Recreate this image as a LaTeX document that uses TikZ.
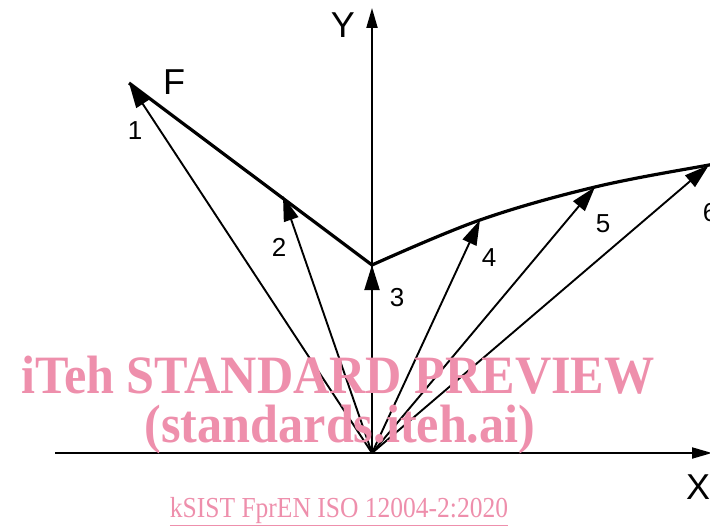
\documentclass[tikz,border=0pt]{standalone}
\usepackage{fontspec}
\setmainfont{Liberation Sans}
\newfontfamily\wmfont{Liberation Serif}
\usetikzlibrary{arrows.meta}
\definecolor{wmpink}{RGB}{238,143,172}
\tikzset{
  vec/.style={line width=1.9pt,-{Triangle[length=25pt,width=15pt]}},
  axis/.style={line width=2pt,-{Triangle[length=20pt,width=11pt]}},
  locus/.style={line width=3.2pt,line join=round},
  num/.style={font=\fontsize{26}{26}\selectfont},
  big/.style={font=\fontsize{36}{36}\selectfont},
  wm/.style={text=wmpink,font=\wmfont\bfseries\fontsize{54}{54}\selectfont},
}
\begin{document}
\begin{tikzpicture}[x=1pt,y=-1pt]
\useasboundingbox (0,0) rectangle (710,527);
\coordinate (O) at (372,453);
\coordinate (xs) at (55,453);
\coordinate (xe) at (712,453);
\coordinate (ye) at (372,8);
\coordinate (p1) at (129,83);
\coordinate (p2) at (283,196);
\coordinate (p3) at (372,265);
\coordinate (p4) at (480,220);
\coordinate (p5) at (595,187);
\coordinate (p6) at (709,165);
\coordinate (pe) at (730,162);
% axes
\draw[axis] (xs) -- (xe);
\draw[axis] (O) -- (ye);
% locus
\draw[locus] (p1) -- (p3);
\draw[locus] plot[smooth,tension=0.6] coordinates {(p3) (p4) (p5) (p6) (pe)};
% vectors
\foreach \p in {p1,p2,p3,p4,p5,p6} \draw[vec] (O) -- (\p);
% labels
\node[big] (ly) at (343,25) {Y};
\node[big] (lx) at (698,487) {X};
\node[big] (lf) at (174,82) {F};
\node[num] (l1) at (135,131) {1};
\node[num] (l2) at (279,247) {2};
\node[num] (l3) at (397,298) {3};
\node[num] (l4) at (489,258) {4};
\node[num] (l5) at (603,224) {5};
\node[num] (l6) at (710,213) {6};
% watermark
\node[wm] (w1) at (338,375) {\scalebox{0.93}[1]{iTeh STANDARD PREVIEW}};
\node[wm] (w2) at (340,430) {\scalebox{0.93}[1]{(standards.iteh.ai)}};
\node[text=wmpink,font=\wmfont\fontsize{29}{29}\selectfont] (w3) at (339,512) {\scalebox{0.88}[1]{\underline{kSIST FprEN ISO 12004-2:2020}}};
\end{tikzpicture}
\end{document}
